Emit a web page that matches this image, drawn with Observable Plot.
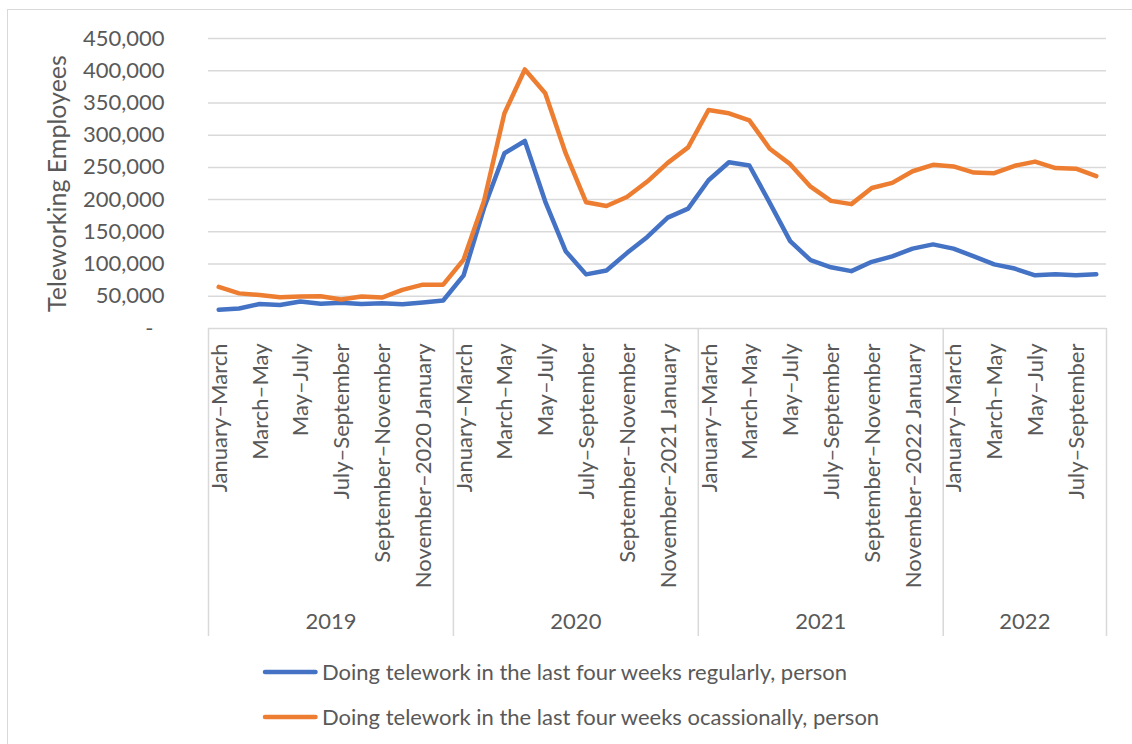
<!DOCTYPE html>
<html>
<head>
<meta charset="utf-8">
<script src="https://cdn.jsdelivr.net/npm/d3@7"></script>
<script src="https://cdn.jsdelivr.net/npm/@observablehq/plot@0.6"></script>
<style>
  html, body { margin: 0; padding: 0; background: #fff; overflow: hidden; }
  #page { position: relative; width: 1132px; height: 744px; font-family: Lato, sans-serif; color: #595959; }
  #border { position: absolute; left: 7px; top: 9px; width: 1300px; height: 900px;
            border-left: 1.5px solid #d9d9d9; border-top: 1.5px solid #d9d9d9; }
  #chart { position: absolute; left: 0; top: 0; }
  #legend { position: absolute; left: 260px; top: 649px; }
  .item { display: flex; align-items: center; height: 45px; font-size: 22px; line-height: 45px; white-space: nowrap; }
  .item svg { display: block; width: 62px; height: 10px; }
</style>
</head>
<body>
<div id="page">
  <div id="border"></div>
  <div id="chart"></div>
  <div id="legend"></div>
</div>
<script>
// Three-month moving periods, grouped by year
const years = ["2019", "2020", "2021", "2022"];
const periodsPerYear = [12, 12, 12, 8];
const periods = [
  "January–March", "February–April", "March–May", "April–June",
  "May–July", "June–August", "July–September", "August–October",
  "September–November", "October–December",
  "November–{next} January", "December–{next} February"
];

// Employees doing telework in the last four weeks, persons
const regular = [
  29000, 31000, 38000, 36500, 42000, 38500, 40000, 38000, 39000, 37500, 40500, 43500,
  82500, 187000, 272000, 291000, 197000, 120000, 84000, 90000, 117000, 142000, 172000, 186000,
  230000, 258000, 253000, 195000, 135500, 106000, 95000, 89000, 103500, 112000, 124000, 130500,
  124000, 112000, 99500, 93000, 82500, 84000, 82500, 84000
];
const occasional = [
  64500, 54500, 52000, 48500, 49500, 50000, 45000, 49500, 48000, 60000, 68000, 68000,
  107000, 198000, 334000, 402000, 365000, 272000, 196000, 190000, 204000, 228000, 257000, 281000,
  339000, 334000, 323000, 279000, 255000, 220000, 198000, 193000, 218000, 226000, 244000, 254000,
  251500, 242000, 241000, 252500, 259000, 249000, 248000, 236500
];

const seriesNames = [
  "Doing telework in the last four weeks regularly, person",
  "Doing telework in the last four weeks ocassionally, person"
];
const seriesColors = ["#4472C4", "#ED7D31"];
const yTicks = [0, 50000, 100000, 150000, 200000, 250000, 300000, 350000, 400000, 450000];
const yTitle = "Teleworking Employees";

// Category index, label and year for every period
const categories = [];
const groups = [];
let start = 0;
years.forEach((year, k) => {
  const n = periodsPerYear[k];
  for (let j = 0; j < n; j++) {
    categories.push({
      i: start + j,
      year,
      label: periods[j].replace("{next}", String(+year + 1)),
      shown: j % 2 === 0
    });
  }
  groups.push({year, start, end: start + n});
  start += n;
});
const boundaries = [...groups.map(g => g.start - 0.5), start - 0.5];

const points = [
  ...regular.map((value, i) => ({i, value, series: seriesNames[0]})),
  ...occasional.map((value, i) => ({i, value, series: seriesNames[1]}))
];

const grey = "#595959";
const gridColor = "#d9d9d9";

const chart = Plot.plot({
  width: 1132,
  height: 645,
  marginLeft: 208,
  marginRight: 26,
  marginTop: 38,
  marginBottom: 317,
  style: {fontFamily: "Lato, sans-serif", fontSize: "22px", color: grey, background: "none", overflow: "visible"},
  x: {type: "linear", domain: [-0.5, categories.length - 0.5], axis: null},
  y: {domain: [0, 450000], axis: null},
  color: {domain: seriesNames, range: seriesColors},
  marks: [
    Plot.gridY(yTicks.filter(d => d > 0), {stroke: gridColor, strokeOpacity: 1, strokeWidth: 1.5}),
    Plot.ruleY([0], {stroke: gridColor, strokeWidth: 1.5}),
    // year separators running down through the category labels
    Plot.axisX(boundaries, {anchor: "bottom", tickSize: 308, tickFormat: () => "", stroke: gridColor, strokeOpacity: 1, strokeWidth: 1.5, label: null}),
    Plot.text(categories.filter(d => d.shown), {
      x: "i", text: "label", frameAnchor: "bottom", rotate: -90,
      textAnchor: "end", lineAnchor: "middle", dy: 15, dx: 1, fill: grey
    }),
    Plot.text(groups, {
      x: d => (d.start + d.end - 1) / 2, text: "year", frameAnchor: "bottom",
      lineAnchor: "middle", dy: 293, fill: grey
    }),
    Plot.axisY(yTicks.filter(d => d > 0), {tickSize: 0, tickPadding: 44, tickFormat: d3.format(","), label: null, fill: grey}),
    Plot.axisY([0], {tickSize: 0, tickPadding: 55, tickFormat: () => "-", label: null, fill: grey}),
    Plot.text([yTitle], {
      text: d => d, frameAnchor: "left", rotate: -90, dx: -143,
      textAnchor: "middle", lineAnchor: "bottom", fontSize: 25, fill: grey
    }),
    Plot.line(points, {
      x: "i", y: "value", z: "series", stroke: "series",
      strokeWidth: 4.5, strokeLinejoin: "round", strokeLinecap: "round"
    })
  ]
});
document.getElementById("chart").append(chart);

// Legend below the chart
const legend = d3.select("#legend");
seriesNames.forEach((name, k) => {
  const item = legend.append("div").attr("class", "item");
  const svg = item.append("svg").attr("viewBox", "0 0 62 10");
  svg.append("line")
    .attr("x1", 5).attr("x2", 55.5).attr("y1", 5).attr("y2", 5)
    .attr("stroke", seriesColors[k]).attr("stroke-width", 4.5).attr("stroke-linecap", "round");
  item.append("span").text(name);
});
</script>
</body>
</html>
